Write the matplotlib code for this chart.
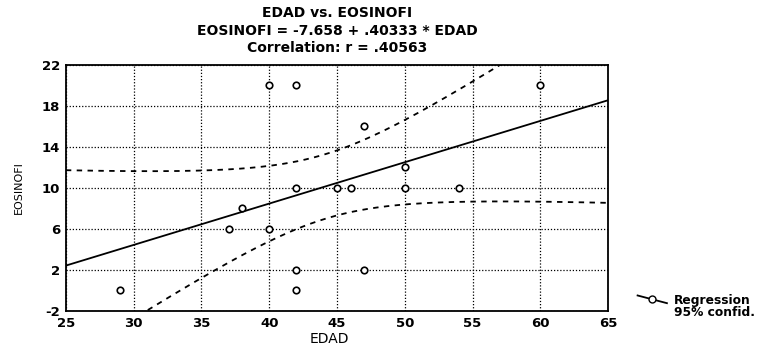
import numpy as np
import matplotlib.pyplot as plt
from matplotlib.lines import Line2D
from matplotlib.legend_handler import HandlerLine2D

plt.rcParams['font.family'] = ['DejaVu Sans']
plt.rcParams['font.weight'] = 'bold'
plt.rcParams['axes.unicode_minus'] = False

# points
edad = [29, 37, 38, 40, 40, 42, 42, 42, 42, 45, 46, 47, 47, 50, 50, 54, 60]
eosinofi = [0, 6, 8, 20, 6, 20, 10, 2, 0, 10, 10, 16, 2, 12, 10, 10, 20]

# fitted line as printed in the title
b0 = -7.658
b1 = 0.40333
r_txt = '.40563'

x_ticks = [25, 30, 35, 40, 45, 50, 55, 60, 65]
y_ticks = [-2, 2, 6, 10, 14, 18, 22]

x = np.array(edad, dtype=float)
y = np.array(eosinofi, dtype=float)
n = len(x)
xbar = x.mean()
sxx = ((x - xbar) ** 2).sum()
resid = y - (b0 + b1 * x)
s = np.sqrt((resid ** 2).sum() / (n - 2))
t95 = 2.131

xs = np.linspace(25, 65, 200)
fit = b0 + b1 * xs
hw = t95 * s * np.sqrt(1.0 / n + (xs - xbar) ** 2 / sxx)


class SlantHandler(HandlerLine2D):
    # legend key drawn as a short slanted line, like the original
    def create_artists(self, legend, orig_handle, xdescent, ydescent,
                       width, height, fontsize, trans):
        arts = super().create_artists(legend, orig_handle, xdescent, ydescent,
                                      width, height, fontsize, trans)
        for a in arts:
            xd = np.asarray(a.get_xdata(), dtype=float)
            if len(xd) > 1 and xd.max() > xd.min():
                f = (xd - xd.min()) / (xd.max() - xd.min())
                a.set_ydata(height * (1.0 - 0.9 * f))
        return arts


fig = plt.figure(figsize=(7.66, 3.49), dpi=100)
ax = fig.add_axes([0.086, 0.109, 0.708, 0.705])

ax.plot(xs, fit, color='black', lw=1.3)
ax.plot(xs, fit + hw, color='black', lw=1.3, ls=(0, (3, 3)))
ax.plot(xs, fit - hw, color='black', lw=1.3, ls=(0, (3, 3)))
ax.scatter(x, y, s=22, facecolors='white', edgecolors='black', linewidths=1.2, zorder=3)

ax.set_xlim(25, 65)
ax.set_ylim(-2, 22)
ax.set_xticks(x_ticks)
ax.set_yticks(y_ticks)
ax.grid(True, color='black', ls=(0, (1, 1.5)), lw=0.9)
ax.tick_params(labelsize=9.5, length=0, pad=4)
for sp in ax.spines.values():
    sp.set_linewidth(1.3)

ax.set_xlabel('EDAD', fontsize=10)
ax.xaxis.set_label_coords(0.485, -0.085)
ax.set_ylabel('EOSINOFI', fontsize=8, labelpad=13)

fig.text(0.44, 0.962, 'EDAD vs. EOSINOFI', ha='center', va='center', fontsize=10)
fig.text(0.44, 0.912, 'EOSINOFI = %.3f + .40333 * EDAD' % b0, ha='center', va='center', fontsize=10)
fig.text(0.44, 0.862, 'Correlation: r = ' + r_txt, ha='center', va='center', fontsize=10)

h1 = Line2D([], [], color='black', lw=1.3, marker='o', markersize=5,
            markerfacecolor='white', markeredgecolor='black')
h2 = Line2D([], [], color='none')
fig.legend([h1, h2], ['Regression', '95% confid.'], loc='lower left',
           bbox_to_anchor=(0.818, 0.055), frameon=False, fontsize=8.8,
           handlelength=2.4, labelspacing=-0.1, handletextpad=0.6,
           handler_map={h1: SlantHandler()})

fig.savefig('out.png', dpi=100)
